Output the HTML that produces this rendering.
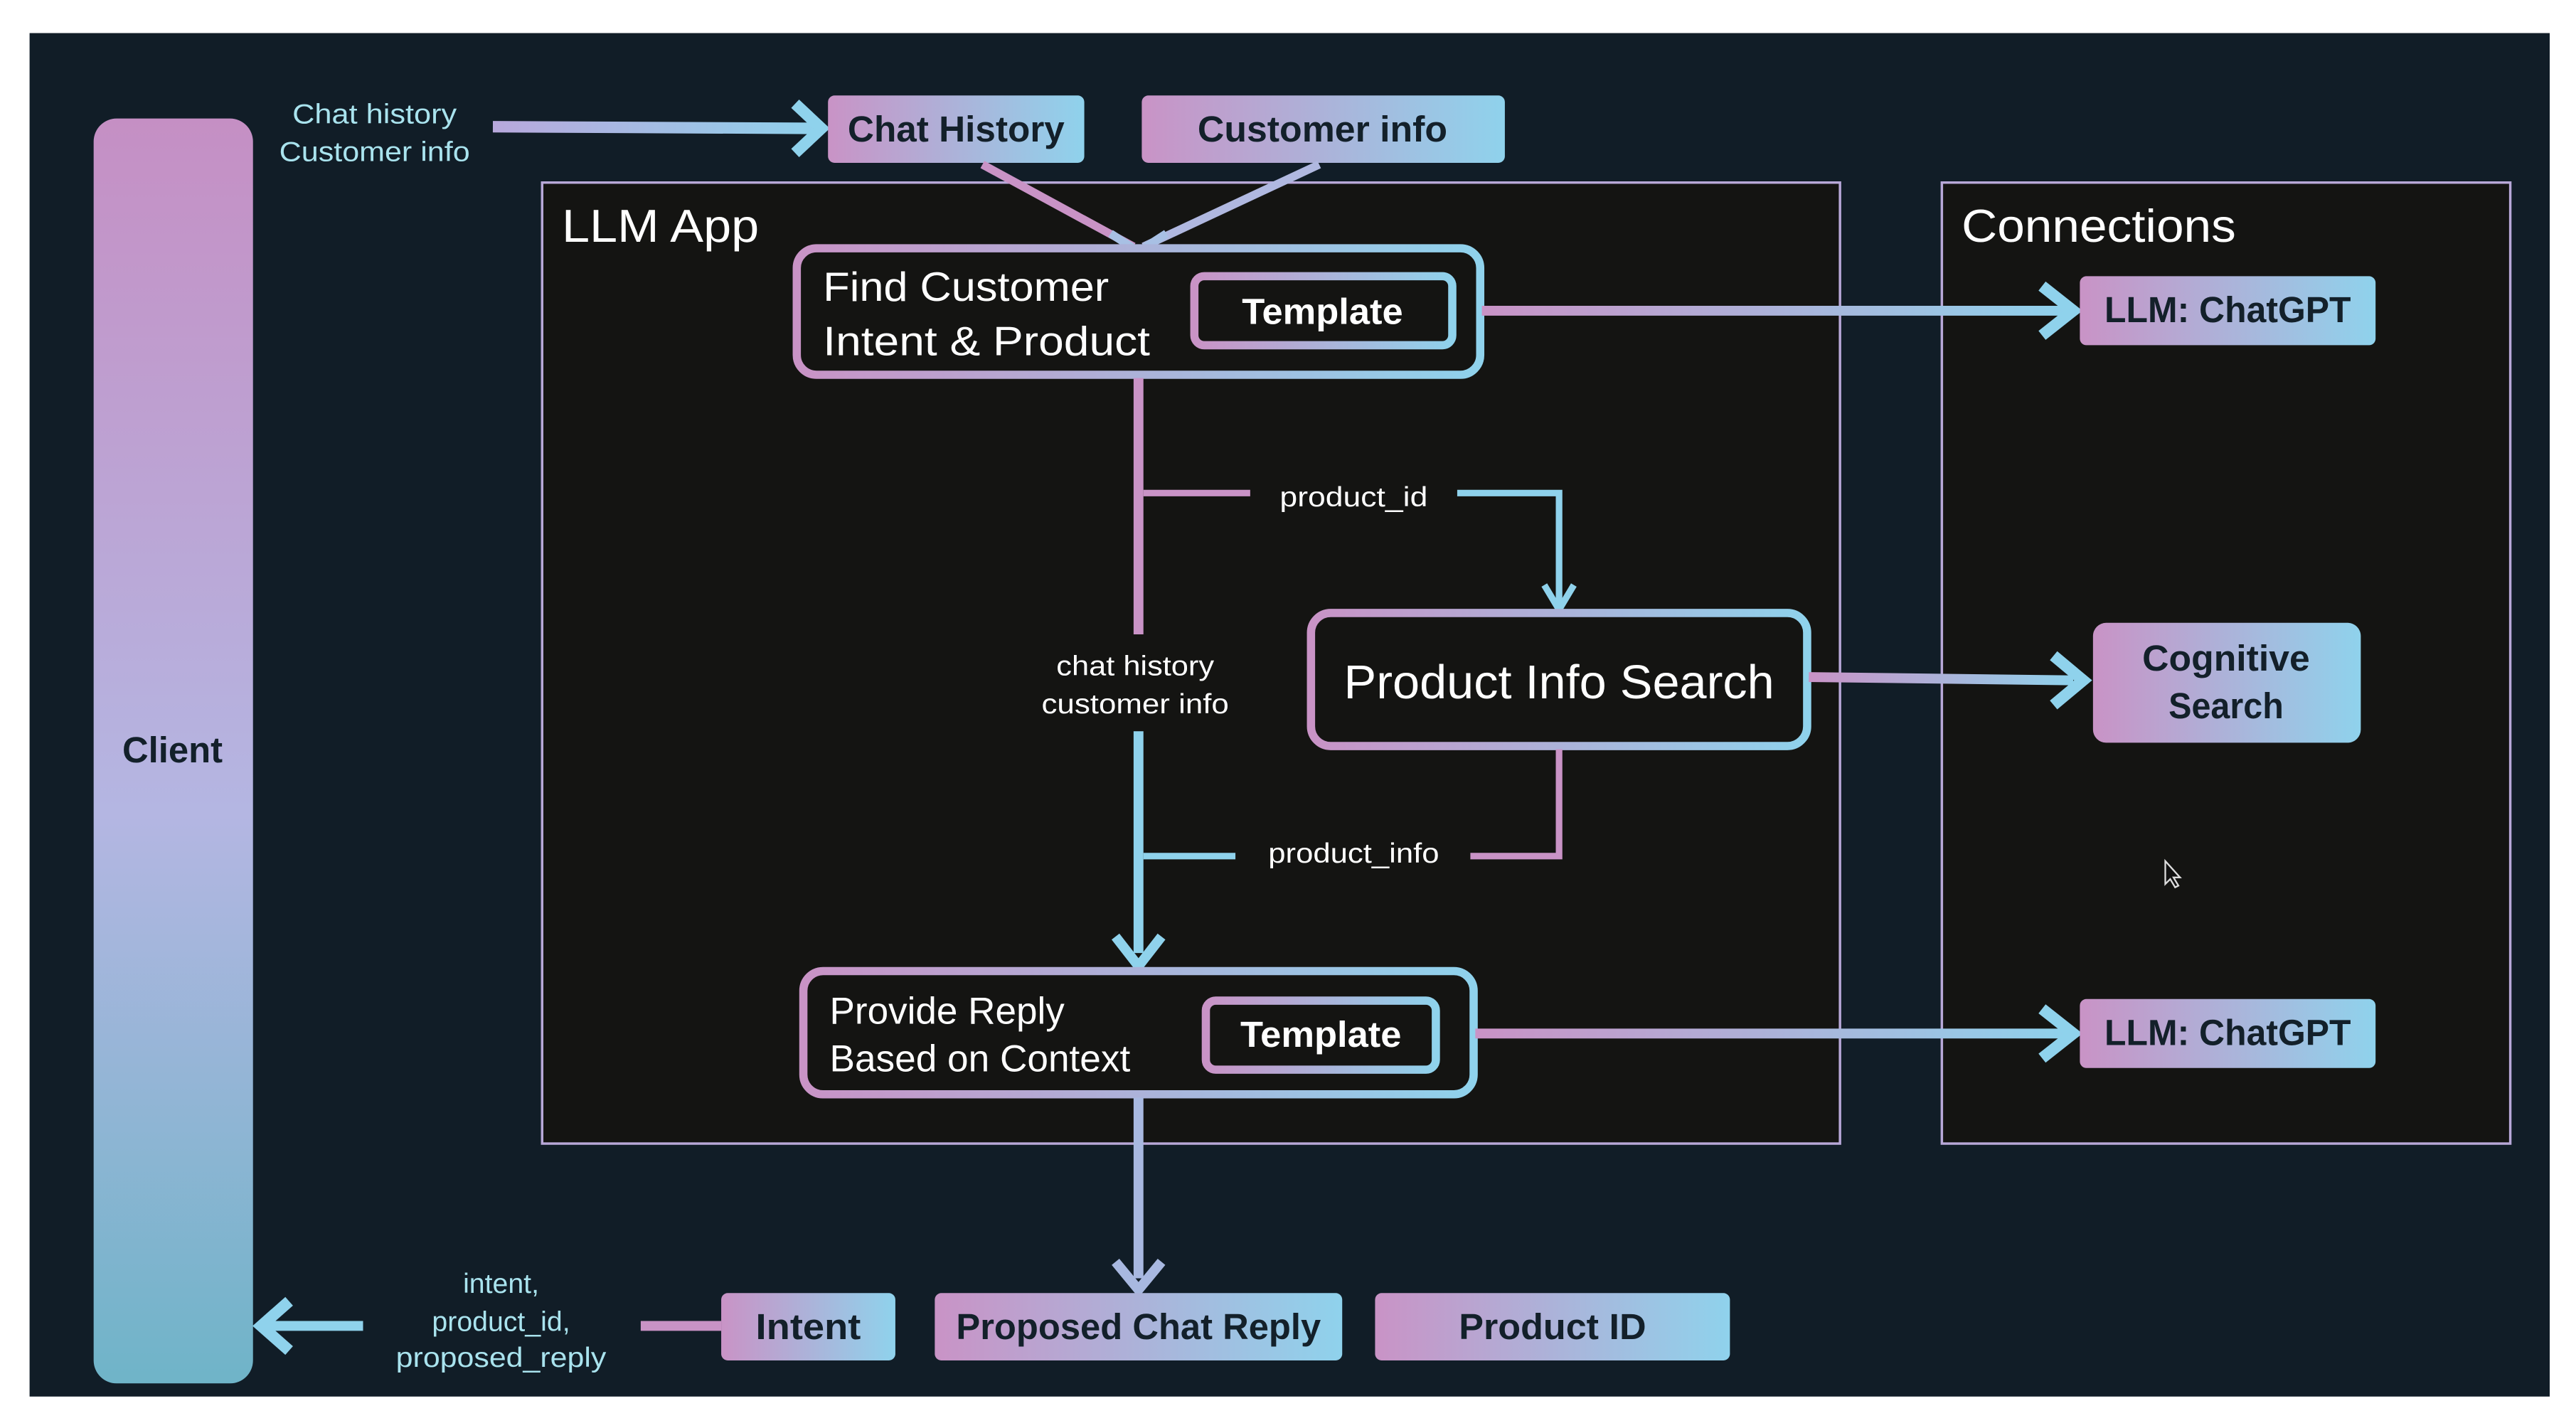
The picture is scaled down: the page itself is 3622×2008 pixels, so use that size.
<!DOCTYPE html>
<html><head><meta charset="utf-8"><style>
html,body{margin:0;padding:0;background:#fff;}
svg{display:block;}
text{font-family:"Liberation Sans",sans-serif;}
</style></head><body>
<svg width="3622" height="2008" viewBox="0 0 1568 869" xmlns="http://www.w3.org/2000/svg">
<defs>
<linearGradient id="h" x1="0" y1="0" x2="1" y2="0"><stop offset="0" stop-color="#c993c6"/><stop offset="1" stop-color="#8fd2ec"/></linearGradient>
<linearGradient id="hu" gradientUnits="userSpaceOnUse" x1="300" y1="0" x2="500" y2="0"><stop offset="0" stop-color="#b8a8dc"/><stop offset="1" stop-color="#8fd2ec"/></linearGradient>
<linearGradient id="h1" gradientUnits="userSpaceOnUse" x1="902" y1="0" x2="1260" y2="0"><stop offset="0" stop-color="#c993c6"/><stop offset="1" stop-color="#8fd2ec"/></linearGradient>
<linearGradient id="h2" gradientUnits="userSpaceOnUse" x1="1101" y1="0" x2="1262" y2="0"><stop offset="0" stop-color="#c993c6"/><stop offset="1" stop-color="#8fd2ec"/></linearGradient>
<linearGradient id="v" x1="0" y1="0" x2="0" y2="1"><stop offset="0" stop-color="#c58fc4"/><stop offset="0.55" stop-color="#b4b6e2"/><stop offset="1" stop-color="#6fb4c8"/></linearGradient>
</defs>
<rect x="18" y="20" width="1534" height="830" fill="#111d27"/>
<rect x="57" y="72" width="97" height="770" rx="14" fill="url(#v)"/>
<text x="105" y="464" font-size="22" font-weight="bold" fill="#13202a" text-anchor="middle">Client</text>
<text x="228" y="75" font-size="17" fill="#a9e3ee" text-anchor="middle" textLength="100" lengthAdjust="spacingAndGlyphs">Chat history</text>
<text x="228" y="98" font-size="17" fill="#a9e3ee" text-anchor="middle" textLength="116" lengthAdjust="spacingAndGlyphs">Customer info</text>
<line x1="300" y1="77" x2="495" y2="78" stroke="url(#hu)" stroke-width="7"/>
<polyline points="484,63 500,78 484,93" fill="none" stroke="#8fd2ec" stroke-width="7"/>
<rect x="504" y="58" width="156" height="41" rx="4" fill="url(#h)"/>
<text x="582" y="86" font-size="22" font-weight="bold" fill="#13202a" text-anchor="middle" textLength="132" lengthAdjust="spacingAndGlyphs">Chat History</text>
<rect x="695" y="58" width="221" height="41" rx="4" fill="url(#h)"/>
<text x="805" y="86" font-size="22" font-weight="bold" fill="#13202a" text-anchor="middle" textLength="152" lengthAdjust="spacingAndGlyphs">Customer info</text>
<rect x="330" y="111" width="790" height="585" fill="#141412" stroke="#b8a8d8" stroke-width="1.5"/>
<text x="342" y="147" font-size="28" fill="#fff" textLength="120" lengthAdjust="spacingAndGlyphs">LLM App</text>
<rect x="1182" y="111" width="346" height="585" fill="#141412" stroke="#b8a8d8" stroke-width="1.5"/>
<text x="1194" y="147" font-size="28" fill="#fff" textLength="167" lengthAdjust="spacingAndGlyphs">Connections</text>
<line x1="598" y1="100" x2="690" y2="150" stroke="#c993c6" stroke-width="5"/>
<line x1="803" y1="100" x2="696" y2="150" stroke="#b0b8e0" stroke-width="5"/>
<polyline points="676,142 693,153 710,142" fill="none" stroke="#a8c0e4" stroke-width="5"/>
<rect x="485" y="151" width="416" height="77" rx="12" fill="#141412" stroke="url(#h)" stroke-width="5"/>
<text x="501" y="183" font-size="25" fill="#fff" textLength="174" lengthAdjust="spacingAndGlyphs">Find Customer</text>
<text x="501" y="216" font-size="25" fill="#fff" textLength="199" lengthAdjust="spacingAndGlyphs">Intent &amp; Product</text>
<rect x="727" y="168" width="157" height="42" rx="6" fill="#141412" stroke="url(#h)" stroke-width="5"/>
<text x="805" y="197" font-size="22" font-weight="bold" fill="#fff" text-anchor="middle" textLength="98" lengthAdjust="spacingAndGlyphs">Template</text>
<line x1="902" y1="189" x2="1258" y2="189" stroke="url(#h1)" stroke-width="6"/>
<polyline points="1243,174 1262,189 1243,204" fill="none" stroke="#8fd2ec" stroke-width="7"/>
<rect x="1266" y="168" width="180" height="42" rx="4" fill="url(#h)"/>
<text x="1356" y="196" font-size="22" font-weight="bold" fill="#13202a" text-anchor="middle" textLength="150" lengthAdjust="spacingAndGlyphs">LLM: ChatGPT</text>
<line x1="693" y1="230" x2="693" y2="386" stroke="#c993c6" stroke-width="6"/>
<line x1="693" y1="445" x2="693" y2="580" stroke="#8fd2ec" stroke-width="6"/>
<polyline points="679,570 693,588 707,570" fill="none" stroke="#8fd2ec" stroke-width="6"/>
<text x="691" y="411" font-size="17" fill="#fff" text-anchor="middle" textLength="96" lengthAdjust="spacingAndGlyphs">chat history</text>
<text x="691" y="434" font-size="17" fill="#fff" text-anchor="middle" textLength="114" lengthAdjust="spacingAndGlyphs">customer info</text>
<line x1="696" y1="300" x2="761" y2="300" stroke="#c993c6" stroke-width="4"/>
<text x="824" y="308" font-size="17" fill="#fff" text-anchor="middle" textLength="90" lengthAdjust="spacingAndGlyphs">product_id</text>
<polyline points="887,300 949,300 949,368" fill="none" stroke="#8fd2ec" stroke-width="4"/>
<polyline points="940,356 949,371 958,356" fill="none" stroke="#8fd2ec" stroke-width="4"/>
<rect x="798" y="373" width="302" height="81" rx="12" fill="#141412" stroke="url(#h)" stroke-width="5"/>
<text x="949" y="425" font-size="29" fill="#fff" text-anchor="middle" textLength="262" lengthAdjust="spacingAndGlyphs">Product Info Search</text>
<line x1="1101" y1="412" x2="1262" y2="414" stroke="url(#h2)" stroke-width="6"/>
<polyline points="1250,399 1268,414 1250,429" fill="none" stroke="#8fd2ec" stroke-width="7"/>
<rect x="1274" y="379" width="163" height="73" rx="8" fill="url(#h)"/>
<text x="1355" y="408" font-size="22" font-weight="bold" fill="#13202a" text-anchor="middle" textLength="102" lengthAdjust="spacingAndGlyphs">Cognitive</text>
<text x="1355" y="437" font-size="22" font-weight="bold" fill="#13202a" text-anchor="middle" textLength="70" lengthAdjust="spacingAndGlyphs">Search</text>
<polyline points="949,456 949,521 895,521" fill="none" stroke="#c993c6" stroke-width="4"/>
<text x="824" y="525" font-size="17" fill="#fff" text-anchor="middle" textLength="104" lengthAdjust="spacingAndGlyphs">product_info</text>
<line x1="696" y1="521" x2="752" y2="521" stroke="#8fd2ec" stroke-width="4"/>
<rect x="489" y="591" width="408" height="75" rx="12" fill="#141412" stroke="url(#h)" stroke-width="5"/>
<text x="505" y="623" font-size="23" fill="#fff" textLength="143" lengthAdjust="spacingAndGlyphs">Provide Reply</text>
<text x="505" y="652" font-size="23" fill="#fff" textLength="183" lengthAdjust="spacingAndGlyphs">Based on Context</text>
<rect x="734" y="609" width="140" height="42" rx="6" fill="#141412" stroke="url(#h)" stroke-width="5"/>
<text x="804" y="637" font-size="22" font-weight="bold" fill="#fff" text-anchor="middle" textLength="98" lengthAdjust="spacingAndGlyphs">Template</text>
<line x1="898" y1="629" x2="1258" y2="629" stroke="url(#h1)" stroke-width="6"/>
<polyline points="1243,614 1262,629 1243,644" fill="none" stroke="#8fd2ec" stroke-width="7"/>
<rect x="1266" y="608" width="180" height="42" rx="4" fill="url(#h)"/>
<text x="1356" y="636" font-size="22" font-weight="bold" fill="#13202a" text-anchor="middle" textLength="150" lengthAdjust="spacingAndGlyphs">LLM: ChatGPT</text>
<line x1="693" y1="668" x2="693" y2="778" stroke="#a8b8e0" stroke-width="6"/>
<polyline points="679,768 693,785 707,768" fill="none" stroke="#a8b8e0" stroke-width="6"/>
<rect x="439" y="787" width="106" height="41" rx="4" fill="url(#h)"/>
<text x="492" y="815" font-size="22" font-weight="bold" fill="#13202a" text-anchor="middle" textLength="64" lengthAdjust="spacingAndGlyphs">Intent</text>
<rect x="569" y="787" width="248" height="41" rx="4" fill="url(#h)"/>
<text x="693" y="815" font-size="22" font-weight="bold" fill="#13202a" text-anchor="middle" textLength="222" lengthAdjust="spacingAndGlyphs">Proposed Chat Reply</text>
<rect x="837" y="787" width="216" height="41" rx="4" fill="url(#h)"/>
<text x="945" y="815" font-size="22" font-weight="bold" fill="#13202a" text-anchor="middle" textLength="114" lengthAdjust="spacingAndGlyphs">Product ID</text>
<line x1="390" y1="807" x2="439" y2="807" stroke="#c993c6" stroke-width="6"/>
<text x="305" y="787" font-size="17" fill="#a9e3ee" text-anchor="middle">intent,</text>
<text x="305" y="810" font-size="17" fill="#a9e3ee" text-anchor="middle">product_id,</text>
<text x="305" y="832" font-size="17" fill="#a9e3ee" text-anchor="middle" textLength="128" lengthAdjust="spacingAndGlyphs">proposed_reply</text>
<line x1="160" y1="807" x2="221" y2="807" stroke="#8fd2ec" stroke-width="6"/>
<polyline points="176,792 159,807 176,822" fill="none" stroke="#8fd2ec" stroke-width="7"/>
<path d="M1318,524 l0,14 l3,-3 l3,5 l2,-1 l-3,-5 l4,0 z" fill="#111" stroke="#ddd" stroke-width="1"/>
</svg>
</body></html>
